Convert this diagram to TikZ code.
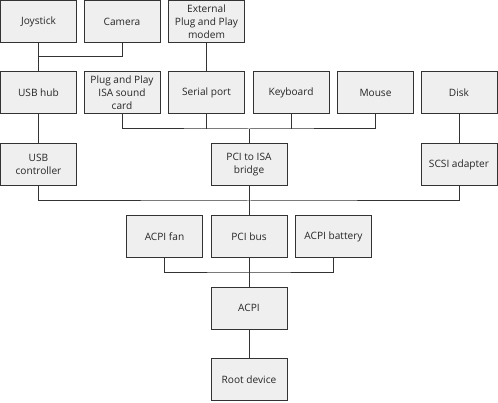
\documentclass[tikz,border=0pt]{standalone}
\usepackage{fontspec}
\setmainfont{Open Sans}
\begin{document}
\begin{tikzpicture}[x=0.75pt,y=-0.75pt,
  box/.style={draw=linec,fill=boxf,line width=0.75pt,minimum width=57pt,minimum height=31.5pt,
    inner sep=1pt,align=center,font=\fontsize{7.6}{9.8}\selectfont,text=black!85},
  conn/.style={draw=linec,line width=0.75pt}]
\definecolor{linec}{HTML}{333333}
\definecolor{boxf}{HTML}{EFEFEF}
\useasboundingbox (0,0) rectangle (498,402);
\node[box] (joy) at (38.5,21.75) {Joystick};
\node[box] (cam) at (122,21.75) {Camera};
\node[box] (modem) at (206.5,21.75) {External\\Plug and Play\\modem};
\node[box] (hub) at (38.5,93) {USB hub};
\node[box] (snd) at (122,93) {Plug and Play\\ISA sound\\card};
\node[box] (serial) at (206.5,93) {Serial port};
\node[box] (kbd) at (291,93) {Keyboard};
\node[box] (mouse) at (375.5,93) {Mouse};
\node[box] (disk) at (459,93) {Disk};
\node[box] (usbc) at (38.5,164.5) {USB\\controller};
\node[box] (bridge) at (249,164.5) {PCI to ISA\\bridge};
\node[box] (scsi) at (459,164.5) {SCSI adapter};
\node[box] (fan) at (164.5,236.5) {ACPI fan};
\node[box] (pcibus) at (249,236.5) {PCI bus};
\node[box] (batt) at (333.5,236.5) {ACPI battery};
\node[box] (acpi) at (249,308) {ACPI};
\node[box] (root) at (249,379.5) {Root device};
\coordinate (j1) at (38.5,57);
\coordinate (b1) at (249,129);
\coordinate (b2) at (249,201);
\coordinate (b3) at (249,272);
\draw[conn] (joy.south) -- (hub.north);
\draw[conn] (cam.south) |- (j1);
\draw[conn] (modem.south) -- (serial.north);
\draw[conn] (snd.south) |- (b1) -| (mouse.south);
\draw[conn] (serial.south) -- (serial.south |- b1);
\draw[conn] (kbd.south) -- (kbd.south |- b1);
\draw[conn] (bridge.north) -- (b1);
\draw[conn] (hub.south) -- (usbc.north);
\draw[conn] (disk.south) -- (scsi.north);
\draw[conn] (usbc.south) |- (b2) -| (scsi.south);
\draw[conn] (bridge.south) -- (pcibus.north);
\draw[conn] (fan.south) |- (b3) -| (batt.south);
\draw[conn] (pcibus.south) -- (acpi.north);
\draw[conn] (acpi.south) -- (root.north);
\end{tikzpicture}
\end{document}
